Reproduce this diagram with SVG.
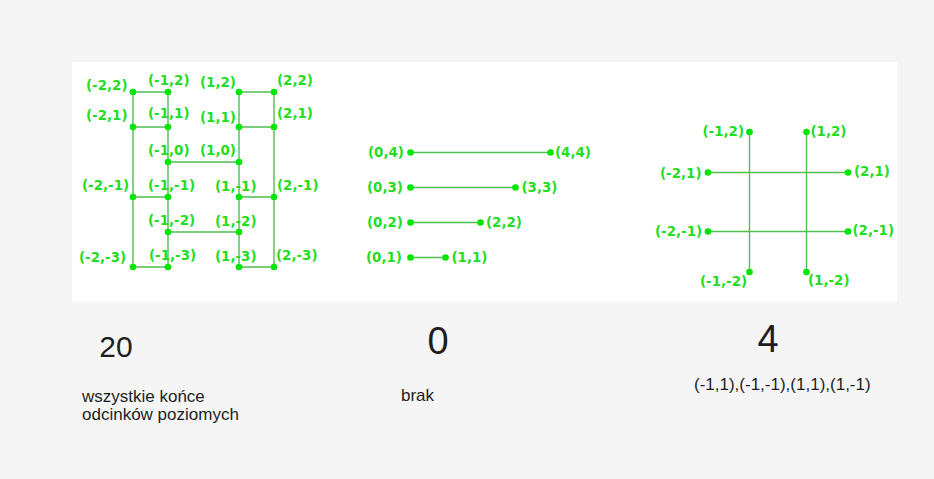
<svg xmlns="http://www.w3.org/2000/svg" width="934" height="479" viewBox="0 0 934 479">
<style>
.bg{fill:#f5f5f5}
.panel{fill:#ffffff}
.ln{stroke:#4fbf4f;stroke-width:1.4;fill:none}
.dot{fill:#00e600}
.lb{font-family:"DejaVu Sans",Verdana,sans-serif;font-weight:bold;font-size:13.4px;fill:#22dd22}
.hw{font-family:"Liberation Sans","DejaVu Sans",sans-serif;fill:#1e1e1e}
</style>
<rect class="bg" x="0" y="0" width="934" height="479"/>
<rect class="panel" x="72" y="62" width="825" height="240"/>
<g id="connectors">
  <!-- left figure -->
  <line class="ln" x1="133" y1="92" x2="133" y2="267"/>
  <line class="ln" x1="168" y1="92" x2="168" y2="267"/>
  <line class="ln" x1="239" y1="92" x2="239" y2="267"/>
  <line class="ln" x1="274" y1="92" x2="274" y2="267"/>
  <line class="ln" x1="133" y1="92" x2="168" y2="92"/>
  <line class="ln" x1="133" y1="127" x2="168" y2="127"/>
  <line class="ln" x1="133" y1="197" x2="168" y2="197"/>
  <line class="ln" x1="133" y1="267" x2="168" y2="267"/>
  <line class="ln" x1="239" y1="92" x2="274" y2="92"/>
  <line class="ln" x1="239" y1="127" x2="274" y2="127"/>
  <line class="ln" x1="239" y1="197" x2="274" y2="197"/>
  <line class="ln" x1="239" y1="267" x2="274" y2="267"/>
  <line class="ln" x1="168" y1="162" x2="239" y2="162"/>
  <line class="ln" x1="168" y1="232" x2="239" y2="232"/>
  <!-- middle figure -->
  <line class="ln" x1="410.5" y1="152.5" x2="550.5" y2="152.5"/>
  <line class="ln" x1="410.5" y1="187.5" x2="515.5" y2="187.5"/>
  <line class="ln" x1="410.5" y1="222.5" x2="480.5" y2="222.5"/>
  <line class="ln" x1="410.5" y1="257.5" x2="445.5" y2="257.5"/>
  <!-- right figure -->
  <line class="ln" x1="708" y1="172.5" x2="848" y2="172.5"/>
  <line class="ln" x1="708" y1="231.5" x2="848" y2="231.5"/>
  <line class="ln" x1="749.5" y1="132" x2="749.5" y2="272"/>
  <line class="ln" x1="806.5" y1="132" x2="806.5" y2="272"/>
</g>
<!-- left figure nodes -->
<g id="L_m2_2"><circle class="dot" cx="133" cy="92" r="3.3"/><text class="lb" x="86" y="90">(-2,2)</text></g>
<g id="L_m1_2"><circle class="dot" cx="168" cy="92" r="3.3"/><text class="lb" x="148" y="85">(-1,2)</text></g>
<g id="L_1_2"><circle class="dot" cx="239" cy="92" r="3.3"/><text class="lb" x="200" y="87">(1,2)</text></g>
<g id="L_2_2"><circle class="dot" cx="274" cy="92" r="3.3"/><text class="lb" x="277" y="85">(2,2)</text></g>
<g id="L_m2_1"><circle class="dot" cx="133" cy="127" r="3.3"/><text class="lb" x="86" y="120">(-2,1)</text></g>
<g id="L_m1_1"><circle class="dot" cx="168" cy="127" r="3.3"/><text class="lb" x="148" y="118">(-1,1)</text></g>
<g id="L_1_1"><circle class="dot" cx="239" cy="127" r="3.3"/><text class="lb" x="200" y="122">(1,1)</text></g>
<g id="L_2_1"><circle class="dot" cx="274" cy="127" r="3.3"/><text class="lb" x="277" y="118">(2,1)</text></g>
<g id="L_m1_0"><circle class="dot" cx="168" cy="162" r="3.3"/><text class="lb" x="148" y="155">(-1,0)</text></g>
<g id="L_1_0"><circle class="dot" cx="239" cy="162" r="3.3"/><text class="lb" x="200" y="155">(1,0)</text></g>
<g id="L_m2_m1"><circle class="dot" cx="133" cy="197" r="3.3"/><text class="lb" x="82" y="190">(-2,-1)</text></g>
<g id="L_m1_m1"><circle class="dot" cx="168" cy="197" r="3.3"/><text class="lb" x="148" y="190">(-1,-1)</text></g>
<g id="L_1_m1"><circle class="dot" cx="239" cy="197" r="3.3"/><text class="lb" x="215" y="191">(1,-1)</text></g>
<g id="L_2_m1"><circle class="dot" cx="274" cy="197" r="3.3"/><text class="lb" x="277" y="190">(2,-1)</text></g>
<g id="L_m1_m2"><circle class="dot" cx="168" cy="232" r="3.3"/><text class="lb" x="148" y="225">(-1,-2)</text></g>
<g id="L_1_m2"><circle class="dot" cx="239" cy="232" r="3.3"/><text class="lb" x="215" y="226">(1,-2)</text></g>
<g id="L_m2_m3"><circle class="dot" cx="133" cy="267" r="3.3"/><text class="lb" x="79" y="262">(-2,-3)</text></g>
<g id="L_m1_m3"><circle class="dot" cx="168" cy="267" r="3.3"/><text class="lb" x="149" y="260">(-1,-3)</text></g>
<g id="L_1_m3"><circle class="dot" cx="239" cy="267" r="3.3"/><text class="lb" x="215" y="261">(1,-3)</text></g>
<g id="L_2_m3"><circle class="dot" cx="274" cy="267" r="3.3"/><text class="lb" x="276" y="260">(2,-3)</text></g>
<!-- middle figure nodes -->
<g id="M_0_4"><circle class="dot" cx="410.5" cy="152.5" r="3.3"/><text class="lb" x="368" y="157">(0,4)</text></g>
<g id="M_4_4"><circle class="dot" cx="550.5" cy="152.5" r="3.3"/><text class="lb" x="555" y="157">(4,4)</text></g>
<g id="M_0_3"><circle class="dot" cx="410.5" cy="187.5" r="3.3"/><text class="lb" x="367" y="192">(0,3)</text></g>
<g id="M_3_3"><circle class="dot" cx="515.5" cy="187.5" r="3.3"/><text class="lb" x="521.5" y="192">(3,3)</text></g>
<g id="M_0_2"><circle class="dot" cx="410.5" cy="222.5" r="3.3"/><text class="lb" x="367" y="227">(0,2)</text></g>
<g id="M_2_2"><circle class="dot" cx="480.5" cy="222.5" r="3.3"/><text class="lb" x="486" y="227">(2,2)</text></g>
<g id="M_0_1"><circle class="dot" cx="410.5" cy="257.5" r="3.3"/><text class="lb" x="366" y="262">(0,1)</text></g>
<g id="M_1_1"><circle class="dot" cx="445.5" cy="257.5" r="3.3"/><text class="lb" x="451.5" y="262">(1,1)</text></g>
<!-- right figure nodes -->
<g id="R_m1_2"><circle class="dot" cx="749.5" cy="132" r="3.3"/><text class="lb" x="702.5" y="136">(-1,2)</text></g>
<g id="R_1_2"><circle class="dot" cx="806.5" cy="132" r="3.3"/><text class="lb" x="810.5" y="136">(1,2)</text></g>
<g id="R_m2_1"><circle class="dot" cx="708" cy="172.5" r="3.3"/><text class="lb" x="660" y="178">(-2,1)</text></g>
<g id="R_2_1"><circle class="dot" cx="848" cy="172.5" r="3.3"/><text class="lb" x="854" y="176">(2,1)</text></g>
<g id="R_m2_m1"><circle class="dot" cx="708" cy="231.5" r="3.3"/><text class="lb" x="655" y="236">(-2,-1)</text></g>
<g id="R_2_m1"><circle class="dot" cx="848" cy="231.5" r="3.3"/><text class="lb" x="852.5" y="235">(2,-1)</text></g>
<g id="R_m1_m2"><circle class="dot" cx="749.5" cy="272" r="3.3"/><text class="lb" x="700" y="286">(-1,-2)</text></g>
<g id="R_1_m2"><circle class="dot" cx="806.5" cy="272" r="3.3"/><text class="lb" x="808" y="285">(1,-2)</text></g>
<!-- captions -->
<g id="caption_left">
  <text class="hw" x="116" y="357" font-size="30" text-anchor="middle">20</text>
  <text class="hw" x="82" y="402" font-size="17">wszystkie końce</text>
  <text class="hw" x="82" y="420" font-size="17">odcinków poziomych</text>
</g>
<g id="caption_middle">
  <text class="hw" x="438" y="354" font-size="38" text-anchor="middle">0</text>
  <text class="hw" x="401" y="401" font-size="17">brak</text>
</g>
<g id="caption_right">
  <text class="hw" x="768" y="352" font-size="38" text-anchor="middle">4</text>
  <text class="hw" x="694" y="390" font-size="17">(-1,1),(-1,-1),(1,1),(1,-1)</text>
</g>
</svg>
